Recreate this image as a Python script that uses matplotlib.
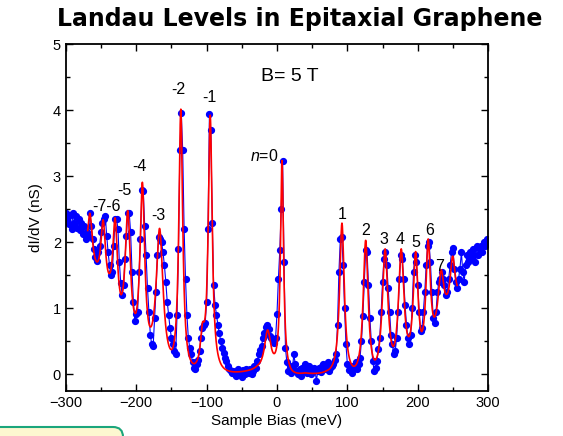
import numpy as np
import matplotlib
matplotlib.use("Agg")
import matplotlib.pyplot as plt
from matplotlib.patches import FancyBboxPatch
from matplotlib.transforms import IdentityTransform
from matplotlib.ticker import MultipleLocator

plt.rcParams['font.family'] = ['Liberation Sans', 'DejaVu Sans']
plt.rcParams['mathtext.fontset'] = 'custom'
plt.rcParams['mathtext.rm'] = 'Liberation Sans'
plt.rcParams['mathtext.it'] = 'Liberation Sans:italic'

# measured dI/dV, sampled every 2 meV from -300 to 300
bias = np.arange(-300, 301, 2)
didv = [
    2.45, 2.35, 2.28, 2.42, 2.20, 2.45, 2.30, 2.40, 2.22, 2.35,
    2.18, 2.30, 2.12, 2.25, 2.05, 2.15, 2.10, 2.45, 2.25, 2.05,
    1.90, 1.78, 1.72, 1.85, 1.95, 2.15, 2.30, 2.35, 2.40, 2.10,
    1.85, 1.65, 1.50, 1.55, 1.95, 2.35, 2.36, 2.20, 1.70, 1.38,
    1.20, 1.35, 1.75, 2.10, 2.45, 2.45, 2.15, 1.55, 1.10, 0.80,
    0.92, 0.95, 1.55, 2.05, 2.80, 2.78, 2.25, 1.80, 1.30, 0.95,
    0.60, 0.45, 0.42, 0.85, 1.25, 1.80, 2.08, 2.05, 2.00, 1.85,
    1.65, 1.40, 1.10, 0.90, 0.70, 0.55, 0.45, 0.35, 0.30, 0.90,
    1.90, 3.40, 3.96, 3.40, 2.20, 1.45, 0.90, 0.55, 0.40, 0.30,
    0.18, 0.10, 0.08, 0.15, 0.22, 0.35, 0.55, 0.70, 0.75, 0.78,
    1.10, 2.20, 3.95, 3.70, 2.30, 1.35, 1.05, 0.90, 0.75, 0.62,
    0.50, 0.40, 0.32, 0.25, 0.20, 0.12, 0.08, 0.05, 0.02, 0.05,
    0.00, -0.03, 0.08, 0.00, 0.04, -0.04, 0.06, 0.00, 0.08, 0.03,
    0.02, 0.08, 0.00, 0.05, 0.12, 0.10, 0.20, 0.30, 0.36, 0.42,
    0.55, 0.62, 0.72, 0.75, 0.68, 0.58, 0.55, 0.50, 0.48, 0.55,
    0.92, 1.45, 1.88, 2.50, 3.23, 1.70, 0.40, 0.18, 0.05, 0.12,
    0.02, 0.10, 0.30, 0.15, 0.05, 0.00, 0.08, -0.03, 0.10, 0.05,
    0.15, 0.02, 0.08, 0.12, 0.00, 0.05, 0.10, 0.06, -0.10, 0.05,
    0.10, 0.03, 0.12, 0.15, 0.08, 0.10, 0.18, 0.05, 0.10, 0.12,
    0.15, 0.22, 0.30, 0.75, 1.55, 2.05, 2.08, 1.65, 1.00, 0.45,
    0.15, 0.06, 0.10, 0.02, 0.12, 0.10, 0.18, 0.08, 0.15, 0.25,
    0.50, 0.88, 1.40, 1.88, 1.85, 1.35, 0.85, 0.50, 0.20, 0.05,
    0.10, 0.20, 0.38, 0.55, 0.95, 1.40, 1.75, 1.85, 1.65, 1.30,
    0.95, 0.60, 0.45, 0.30, 0.35, 0.55, 0.95, 1.45, 1.80, 1.75,
    1.45, 1.05, 0.75, 0.55, 0.45, 0.60, 1.00, 1.55, 1.80, 1.70,
    1.35, 0.95, 0.65, 0.70, 0.95, 1.25, 1.65, 1.95, 2.00, 1.70,
    1.25, 0.85, 0.78, 0.95, 1.25, 1.40, 1.45, 1.55, 1.45, 1.35,
    1.20, 1.25, 1.45, 1.65, 1.85, 1.92, 1.60, 1.40, 1.30, 1.45,
    1.60, 1.85, 1.55, 1.40, 1.65, 1.80, 1.70, 1.85, 1.75, 1.90,
    1.80, 1.70, 1.95, 1.80, 1.90, 1.95, 1.85, 2.00, 1.95, 2.05,
    2.00,
]

# Lorentzian fit: peak centres, peak heights, half widths (meV)
peak_x = [-265.8, -247, -230, -212, -191.3, -166.8, -136.7, -106, -94.9,
          -13.3, 7.1, 92.3, 126, 153.6, 176.5, 197, 214.8, 233, 249.5]
peak_y = [2.44, 2.34, 2.37, 2.48, 2.91, 2.21, 4.02, 0.78, 3.93,
          0.67, 3.24, 2.29, 2.03, 1.90, 1.90, 1.86, 2.05, 1.58, 1.79]
peak_w = [4.0, 4.0, 4.0, 4.5, 4.0, 6.0, 3.3, 3.5, 3.3,
          5.5, 2.6, 4.0, 4.3, 5.0, 4.8, 4.2, 3.8, 5.0, 4.2]
# fit curve values between the peaks
valley_x = [-280, -256.6, -237.8, -222, -200.5, -181.6, -148, -117.9, -50, -28,
            -3, 20, 40, 70, 109, 138.3, 165.3, 186.2, 205, 222.4, 241, 262]
valley_y = [1.95, 1.71, 1.53, 1.21, 0.93, 0.75, 0.40, 0.16, 0.04, 0.13,
            0.32, 0.08, 0.02, 0.05, 0.12, 0.22, 0.42, 0.58, 0.65, 0.88, 1.21, 1.30]
fit_range = (-269, 256)

level_labels = ["-7-6", "-5", "-4", "-3", "-2", "-1", "$n$=0",
                "1", "2", "3", "4", "5", "6", "7"]
label_x = [-242.9, -217.3, -195.4, -168.9, -139.8, -96.4, -18.4,
           92.3, 125.5, 152.6, 175.5, 197, 216.3, 231.6]
label_y = [2.54, 2.79, 3.15, 2.40, 4.31, 4.20, 3.31,
           2.42, 2.18, 2.04, 2.04, 2.00, 2.18, 1.64]


def lorentz(x, c, w):
    return w ** 2 / ((np.asarray(x) - c) ** 2 + w ** 2)


def fit_curve(xs):
    # solve for peak amplitudes and background nodes so the curve passes
    # through the read peak and valley values
    px, pw, vx = np.array(peak_x), np.array(peak_w), np.array(valley_x)
    pts = np.concatenate([px, vx])
    rhs = np.concatenate([peak_y, valley_y])
    n, m = len(px), len(vx)
    A = np.zeros((n + m, n + m))
    for k in range(n):
        A[:, k] = lorentz(pts, px[k], pw[k])
    eye = np.eye(m)
    for i in range(m):
        A[:, n + i] = np.interp(pts, vx, eye[i])
    sol = np.linalg.solve(A, rhs)
    amp, bg = sol[:n], sol[n:]
    out = np.interp(xs, vx, bg)
    for k in range(n):
        out = out + amp[k] * lorentz(xs, px[k], pw[k])
    return out


fig = plt.figure(figsize=(5.63, 4.36), dpi=100)
ax = fig.add_axes([0.117, 0.104, 0.75, 0.794])

ax.plot(bias, didv, '-o', color='#0000ff', lw=0.8, ms=4.2, mec='#0000ff', zorder=2)
xf = np.linspace(fit_range[0], fit_range[1], 3000)
ax.plot(xf, fit_curve(xf), color='#ff0000', lw=1.2, zorder=3)

for lab, lx, ly in zip(level_labels, label_x, label_y):
    ax.text(lx, ly, lab, ha='center', va='center', fontsize=11.5)
ax.text(18.9, 4.51, "B= 5 T", ha='center', va='center', fontsize=14)

ax.set_xlim(-300, 300)
ax.set_ylim(-0.25, 5)
ax.xaxis.set_major_locator(MultipleLocator(100))
ax.xaxis.set_minor_locator(MultipleLocator(50))
ax.yaxis.set_major_locator(MultipleLocator(1))
ax.yaxis.set_minor_locator(MultipleLocator(0.5))
ax.tick_params(which='both', direction='in', top=True, right=True, labelsize=10.5)
ax.tick_params(which='major', length=5, width=1)
ax.tick_params(which='minor', length=3, width=1)
for s in ax.spines.values():
    s.set_linewidth(1.3)
ax.set_xlabel("Sample Bias (meV)", fontsize=11, labelpad=3)
ax.set_ylabel("dI/dV (nS)", fontsize=11, labelpad=7)

fig.text(0.533, 1 - 19 / 436, "Landau Levels in Epitaxial Graphene",
         ha='center', va='center', fontsize=17, fontweight='bold',
         family='DejaVu Sans')

box = FancyBboxPatch((-20, -20), 143, 29, boxstyle="round,pad=0,rounding_size=10",
                     transform=IdentityTransform(), facecolor='#fdf7d0',
                     edgecolor='#1ba67c', lw=1.5, zorder=0)
fig.patches.append(box)

fig.savefig("out.png", dpi=100)
